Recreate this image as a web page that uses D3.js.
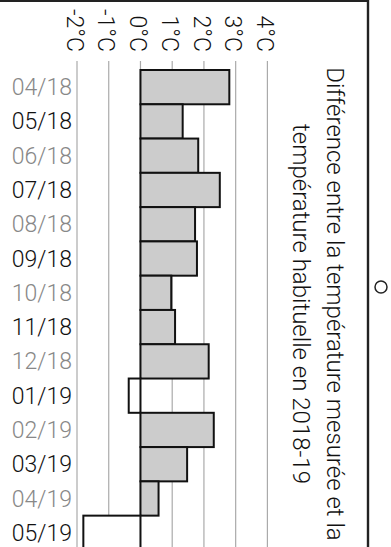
<!DOCTYPE html>
<html>
<head>
<meta charset="utf-8">
<script src="https://cdn.jsdelivr.net/npm/d3@7"></script>
<style>
  html, body { margin: 0; padding: 0; background: #fff; }
  svg { display: block; font-family: Roboto, "Noto Sans", sans-serif; }
</style>
</head>
<body>
<svg id="chart" width="391" height="547"></svg>
<script>
// Monthly temperature anomaly (°C), April 2018 – May 2019
const months = ["04/18","05/18","06/18","07/18","08/18","09/18","10/18",
                "11/18","12/18","01/19","02/19","03/19","04/19","05/19"];
const anomalies = [2.8, 1.33, 1.82, 2.5, 1.72, 1.78, 0.97,
                   1.09, 2.15, -0.37, 2.31, 1.47, 0.57, -1.8];
const tickValues = [-2, -1, 0, 1, 2, 3, 4];
const titleLines = ["Différence entre la température mesurée et la",
                    "température habituelle en 2018-19"];

const svg = d3.select("#chart");

const x = d3.scaleLinear().domain([-2, 4]).range([77, 267.4]);
const y = d3.scaleBand().domain(months).range([70, 70 + 34.28 * months.length]).padding(0);

// frame
svg.append("line").attr("x1", 0).attr("x2", 368).attr("y1", 1).attr("y2", 1)
  .attr("stroke", "#222").attr("stroke-width", 2);
svg.append("line").attr("x1", 368).attr("x2", 368).attr("y1", 0).attr("y2", 547)
  .attr("stroke", "#222").attr("stroke-width", 2.4);
svg.append("circle").attr("cx", 381).attr("cy", 287).attr("r", 6)
  .attr("fill", "none").attr("stroke", "#222").attr("stroke-width", 1.5);

// vertical gridlines
svg.append("g").selectAll("line").data(tickValues).join("line")
  .attr("x1", d => x(d)).attr("x2", d => x(d))
  .attr("y1", 61).attr("y2", 547)
  .attr("stroke", "#aaa").attr("stroke-width", 1.2);

// tick labels, rotated
svg.append("g").selectAll("text").data(tickValues).join("text")
  .attr("transform", d => `translate(${x(d)},52) rotate(90)`)
  .attr("text-anchor", "end")
  .attr("dy", "0.45em")
  .attr("font-size", 23).attr("font-weight", 300).attr("fill", "#111")
  .text(d => `${d}°C`);

// bars
svg.append("g").selectAll("rect").data(anomalies).join("rect")
  .attr("x", d => x(Math.min(0, d)))
  .attr("width", d => Math.abs(x(d) - x(0)))
  .attr("y", (d, i) => y(months[i]))
  .attr("height", y.bandwidth())
  .attr("fill", d => d >= 0 ? "#cccccc" : "#ffffff")
  .attr("stroke", "#111").attr("stroke-width", 2);

// month labels
svg.append("g").selectAll("text").data(months).join("text")
  .attr("x", 72).attr("y", d => y(d) + y.bandwidth() / 2)
  .attr("dy", "0.35em").attr("text-anchor", "end")
  .attr("font-size", 23).attr("font-weight", 300)
  .attr("fill", (d, i) => i % 2 === 0 ? "#888" : "#111")
  .text(d => d);

// title, rotated
const title = svg.append("text")
  .attr("transform", "translate(327,304) rotate(90)")
  .attr("text-anchor", "middle")
  .attr("font-size", 24).attr("font-weight", 300).attr("fill", "#111");
titleLines.forEach((t, i) => {
  title.append("tspan").attr("x", 0).attr("y", i * 34).text(t);
});
</script>
</body>
</html>
